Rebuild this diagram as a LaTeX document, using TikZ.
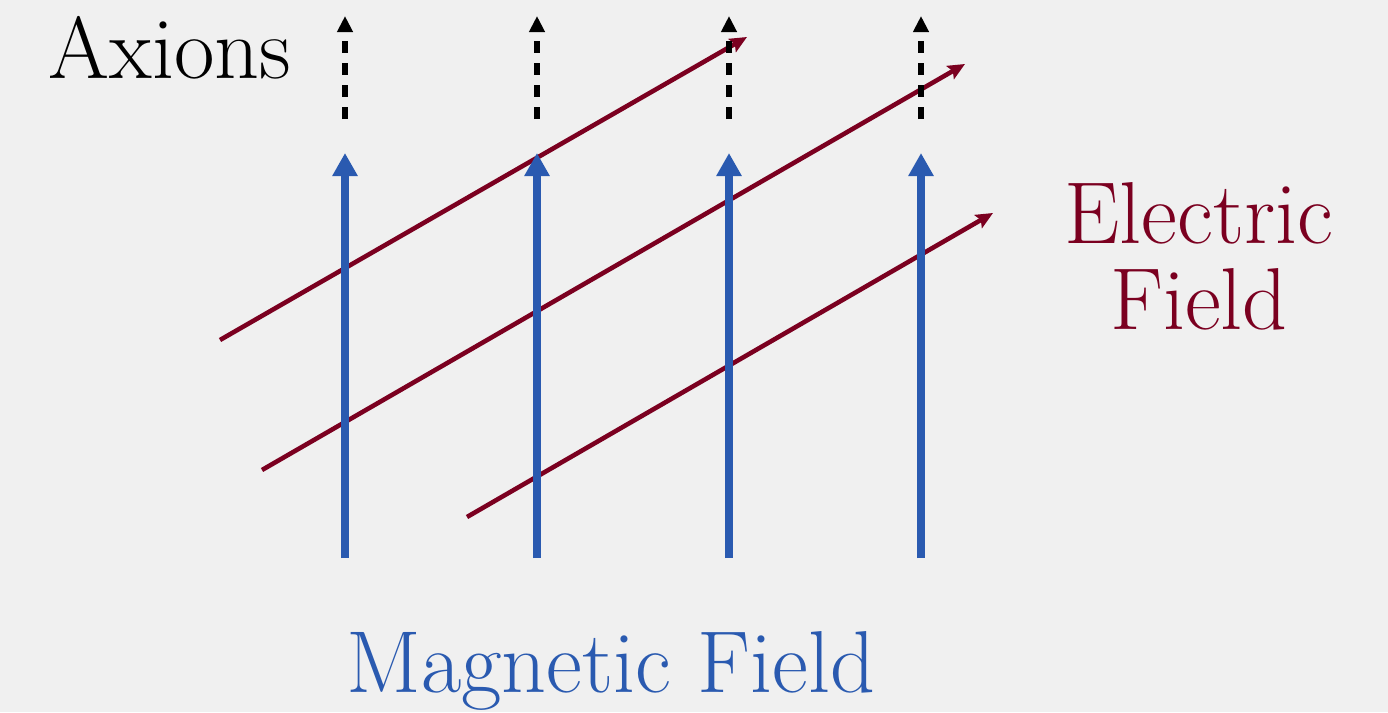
\documentclass[tikz,border=0pt]{standalone}
\usetikzlibrary{arrows.meta, positioning}
\definecolor{cblue}{HTML}{2A5AB0}
\definecolor{cred}{HTML}{7B0020}
\definecolor{cbg}{HTML}{F0F0F0}
\tikzset{
  every picture/.style={x=0.01cm, y=-0.01cm},
  lbl/.style={font=\fontsize{25}{24.5}\selectfont, inner sep=0pt, align=center},
  bfield/.style={-{Triangle[length=0.23cm, width=0.24cm]}, draw=cblue, line width=2.3pt},
  efield/.style={-{Stealth[length=0.17cm, width=0.15cm, inset=0.03cm]}, draw=cred, line width=1.3pt},
  axion/.style={-{Triangle[length=0.16cm, width=0.15cm]}, draw=black, line width=1.5pt, dash pattern=on 3.4pt off 2.9pt},
}

\begin{document}
\begin{tikzpicture}
  \fill[cbg] (0,0) rectangle (1388,712);
  % magnetic field lines
  \coordinate (mag1-bot) at (345,558);  \coordinate (mag1-top) at (345,153);
  \coordinate (mag2-bot) at (537,558);  \coordinate (mag2-top) at (537,153);
  \coordinate (mag3-bot) at (729,558);  \coordinate (mag3-top) at (729,153);
  \coordinate (mag4-bot) at (921,558);  \coordinate (mag4-top) at (921,153);
  % axions
  \coordinate (ax1-bot) at (345,119);  \coordinate (ax1-top) at (345,16);
  \coordinate (ax2-bot) at (537,119);  \coordinate (ax2-top) at (537,16);
  \coordinate (ax3-bot) at (729,119);  \coordinate (ax3-top) at (729,16);
  \coordinate (ax4-bot) at (921,119);  \coordinate (ax4-top) at (921,16);
  % electric field lines
  \coordinate (el1-start) at (220,340);  \coordinate (el1-end) at (747,37);
  \coordinate (el2-start) at (262,470);  \coordinate (el2-end) at (965,64);
  \coordinate (el3-start) at (467,517);  \coordinate (el3-end) at (993,213);

  \draw[efield] (el1-start) -- (el1-end);
  \draw[efield] (el2-start) -- (el2-end);
  \draw[efield] (el3-start) -- (el3-end);
  \draw[bfield] (mag1-bot) -- (mag1-top);
  \draw[bfield] (mag2-bot) -- (mag2-top);
  \draw[bfield] (mag3-bot) -- (mag3-top);
  \draw[bfield] (mag4-bot) -- (mag4-top);
  \draw[axion] (ax1-bot) -- (ax1-top);
  \draw[axion] (ax2-bot) -- (ax2-top);
  \draw[axion] (ax3-bot) -- (ax3-top);
  \draw[axion] (ax4-bot) -- (ax4-top);

  \node[lbl, anchor=base] (axions) at (170,78) {Axions};
  \node[lbl, text=cred] (elabel) at (1199,256) {Electric\\Field};
  \node[lbl, text=cblue, anchor=base] (mlabel) at (611,692) {Magnetic Field};
\end{tikzpicture}
\end{document}
